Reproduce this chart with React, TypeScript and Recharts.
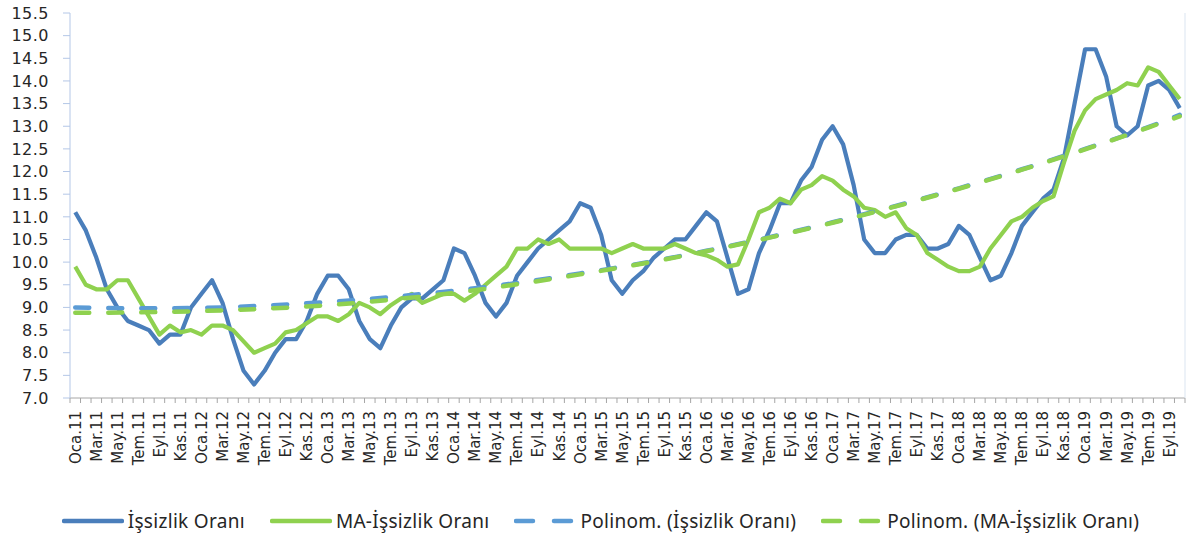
import React from 'react';
import { LineChart, Line, XAxis, YAxis, Legend } from 'recharts';

// months of the TÜİK series, Oca.11 .. Eki.19
const monthNames = ['Oca', 'Şub', 'Mar', 'Nis', 'May', 'Haz', 'Tem', 'Ağu', 'Eyl', 'Eki', 'Kas', 'Ara'];
const yearNames = ['11', '12', '13', '14', '15', '16', '17', '18', '19'];
const categories = yearNames.flatMap(y => monthNames.map(m => `${m}.${y}`)).slice(0, 106);

// İşsizlik Oranı (%)
const issizlik = [
  11.1, 10.7, 10.1, 9.4, 9.0, 8.7, 8.6, 8.5, 8.2, 8.4, 8.4, 9.0,
  9.3, 9.6, 9.1, 8.3, 7.6, 7.3, 7.6, 8.0, 8.3, 8.3, 8.7, 9.3,
  9.7, 9.7, 9.4, 8.7, 8.3, 8.1, 8.6, 9.0, 9.2, 9.2, 9.4, 9.6,
  10.3, 10.2, 9.7, 9.1, 8.8, 9.1, 9.7, 10.0, 10.3, 10.5, 10.7, 10.9,
  11.3, 11.2, 10.6, 9.6, 9.3, 9.6, 9.8, 10.1, 10.3, 10.5, 10.5, 10.8,
  11.1, 10.9, 10.1, 9.3, 9.4, 10.2, 10.7, 11.3, 11.3, 11.8, 12.1, 12.7,
  13.0, 12.6, 11.7, 10.5, 10.2, 10.2, 10.5, 10.6, 10.6, 10.3, 10.3, 10.4,
  10.8, 10.6, 10.1, 9.6, 9.7, 10.2, 10.8, 11.1, 11.4, 11.6, 12.3, 13.5,
  14.7, 14.7, 14.1, 13.0, 12.8, 13.0, 13.9, 14.0, 13.8, 13.4,
];

// MA-İşsizlik Oranı (%)
const maIssizlik = [
  9.9, 9.5, 9.4, 9.4, 9.6, 9.6, 9.2, 8.8, 8.4, 8.6, 8.45, 8.5,
  8.4, 8.6, 8.6, 8.5, 8.25, 8.0, 8.1, 8.2, 8.45, 8.5, 8.65, 8.8,
  8.8, 8.7, 8.85, 9.1, 9.0, 8.85, 9.05, 9.2, 9.3, 9.1, 9.2, 9.3,
  9.3, 9.15, 9.3, 9.5, 9.7, 9.9, 10.3, 10.3, 10.5, 10.4, 10.5, 10.3,
  10.3, 10.3, 10.3, 10.2, 10.3, 10.4, 10.3, 10.3, 10.3, 10.4, 10.3, 10.2,
  10.15, 10.05, 9.9, 9.95, 10.5, 11.1, 11.2, 11.4, 11.3, 11.6, 11.7, 11.9,
  11.8, 11.6, 11.45, 11.2, 11.15, 11.0, 11.1, 10.75, 10.6, 10.2, 10.05, 9.9,
  9.8, 9.8, 9.9, 10.3, 10.6, 10.9, 11.0, 11.2, 11.35, 11.45, 12.2, 12.9,
  13.35, 13.6, 13.7, 13.8, 13.95, 13.9, 14.3, 14.2, 13.9, 13.6,
];

// trend lines, every six months
const trendIndex = [0, 6, 12, 18, 24, 30, 36, 42, 48, 54, 60, 66, 72, 78, 84, 90, 96, 102, 105];
const polyIssizlik = [9.0, 8.98, 8.99, 9.04, 9.12, 9.23, 9.37, 9.54, 9.75, 9.98, 10.25, 10.55, 10.88, 11.24, 11.63, 12.05, 12.5, 12.98, 13.25];
const polyMaIssizlik = [8.88, 8.89, 8.92, 8.97, 9.05, 9.17, 9.32, 9.51, 9.73, 9.97, 10.24, 10.54, 10.87, 11.23, 11.62, 12.04, 12.49, 12.97, 13.22];

const yTicks = [7, 7.5, 8, 8.5, 9, 9.5, 10, 10.5, 11, 11.5, 12, 12.5, 13, 13.5, 14, 14.5, 15, 15.5];

const data = categories.map((month, i) => {
  const t = trendIndex.indexOf(i);
  return {
    month,
    issizlik: issizlik[i],
    ma: maIssizlik[i],
    polyIssizlik: t >= 0 ? polyIssizlik[t] : null,
    polyMa: t >= 0 ? polyMaIssizlik[t] : null,
  };
});

const BLUE = '#4a7ebb';
const GREEN = '#8fd14f';
const BLUE_DASH = '#5b9bd5';
const BAND = 1115 / 106;

function MonthTick(props: any) {
  const { x, y, payload } = props;
  const idx = categories.indexOf(payload.value);
  return (
    <g>
      <line x1={x - BAND / 2} y1={y} x2={x - BAND / 2} y2={y + 5} stroke="#a6a6a6" />
      {idx === categories.length - 1 && (
        <line x1={x + BAND / 2} y1={y} x2={x + BAND / 2} y2={y + 5} stroke="#a6a6a6" />
      )}
      {idx % 2 === 0 && (
        <text
          transform={`translate(${x},${y + 13}) rotate(-90)`}
          textAnchor="end"
          dy="0.36em"
          fontFamily="DejaVu Sans"
          fontSize={15}
          fill="#262626"
        >
          {payload.value}
        </text>
      )}
    </g>
  );
}

const legendItems = [
  { label: 'İşsizlik Oranı', color: BLUE, dashed: false },
  { label: 'MA-İşsizlik Oranı', color: GREEN, dashed: false },
  { label: 'Polinom. (İşsizlik Oranı)', color: BLUE_DASH, dashed: true },
  { label: 'Polinom. (MA-İşsizlik Oranı)', color: GREEN, dashed: true },
];

function ChartLegend() {
  return (
    <div style={{ display: 'flex', justifyContent: 'center', alignItems: 'center', gap: 25, paddingLeft: 14 }}>
      {legendItems.map(item => (
        <div key={item.label} style={{ display: 'flex', alignItems: 'center' }}>
          <svg width={62} height={10} style={{ marginRight: 4 }}>
            <line
              x1={2}
              y1={5}
              x2={60}
              y2={5}
              stroke={item.color}
              strokeWidth={4.5}
              strokeLinecap="round"
              strokeDasharray={item.dashed ? '17 21' : undefined}
            />
          </svg>
          <span style={{ fontFamily: 'Noto Sans', fontSize: 19, letterSpacing: 0.3, color: '#262626' }}>{item.label}</span>
        </div>
      ))}
    </div>
  );
}

export default function App() {
  return (
    <div style={{ position: 'absolute', left: 0, top: 0, width: 1187, height: 534, background: '#fff' }}>
      <LineChart width={1187} height={534} data={data} margin={{ top: 13, right: 0, left: 0, bottom: 0 }}>
        <XAxis
          dataKey="month"
          interval={0}
          padding={{ left: BAND / 2, right: BAND / 2 }}
          height={136}
          tickLine={false}
          tickSize={0}
          tickMargin={0}
          axisLine={{ stroke: '#a6a6a6' }}
          tick={<MonthTick />}
        />
        <YAxis
          domain={[7, 15.5]}
          ticks={yTicks}
          interval={0}
          width={70}
          tickSize={7}
          tickMargin={14}
          axisLine={{ stroke: '#b4c7e7' }}
          tickLine={{ stroke: '#b4c7e7' }}
          tickFormatter={(v: number) => v.toFixed(1)}
          tick={{ fontFamily: 'DejaVu Sans', fontSize: 16, letterSpacing: 0.5, fill: '#262626' }}
        />
        <YAxis yAxisId="edge" orientation="right" width={2} tick={false} tickLine={false} axisLine={{ stroke: '#dbe5f1' }} />
        <Line dataKey="issizlik" stroke={BLUE} strokeWidth={4.2} dot={false} isAnimationActive={false} strokeLinejoin="round" />
        <Line dataKey="ma" stroke={GREEN} strokeWidth={4.2} dot={false} isAnimationActive={false} strokeLinejoin="round" />
        <Line
          dataKey="polyIssizlik"
          type="monotone"
          connectNulls
          stroke={BLUE_DASH}
          strokeWidth={4.5}
          strokeDasharray="14 19"
          strokeLinecap="round"
          dot={false}
          isAnimationActive={false}
        />
        <Line
          dataKey="polyMa"
          type="monotone"
          connectNulls
          stroke={GREEN}
          strokeWidth={4.5}
          strokeDasharray="14 19"
          strokeLinecap="round"
          dot={false}
          isAnimationActive={false}
        />
        <Legend
          verticalAlign="middle"
          align="center"
          wrapperStyle={{ top: 508, left: 0, width: 1187 }}
          content={() => <ChartLegend />}
        />
      </LineChart>
    </div>
  );
}
